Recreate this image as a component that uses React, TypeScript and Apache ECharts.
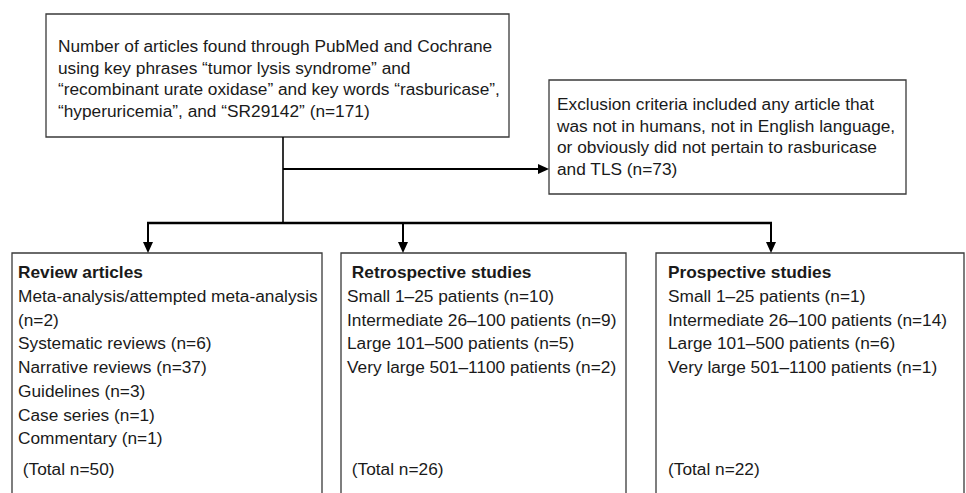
import React, { useEffect, useRef } from "react";
import * as echarts from "echarts";

const topLines = [
  "Number of articles found through PubMed and Cochrane",
  "using key phrases \u201ctumor lysis syndrome\u201d and",
  "\u201crecombinant urate oxidase\u201d and key words \u201crasburicase\u201d,",
  "\u201chyperuricemia\u201d, and \u201cSR29142\u201d (n=171)",
];

const exclusionLines = [
  "Exclusion criteria included any article that",
  "was not in humans, not in English language,",
  "or obviously did not pertain to rasburicase",
  "and TLS (n=73)",
];

const columnHeadings = ["Review articles", " Retrospective studies", "Prospective studies"];
const reviewItems = [
  "Meta-analysis/attempted meta-analysis",
  "(n=2)",
  "Systematic reviews (n=6)",
  "Narrative reviews (n=37)",
  "Guidelines (n=3)",
  "Case series (n=1)",
  "Commentary (n=1)",
];
const retrospectiveItems = [
  "Small 1\u201325 patients (n=10)",
  "Intermediate 26\u2013100 patients (n=9)",
  "Large 101\u2013500 patients (n=5)",
  "Very large 501\u20131100 patients (n=2)",
];
const prospectiveItems = [
  "Small 1\u201325 patients (n=1)",
  "Intermediate 26\u2013100 patients (n=14)",
  "Large 101\u2013500 patients (n=6)",
  "Very large 501\u20131100 patients (n=1)",
];
const columnTotals = [" (Total n=50)", " (Total n=26)", "(Total n=22)"];

const FONT = '"Liberation Sans", Arial, Helvetica, sans-serif';
const FONT_SIZE = 17.3;
const TEXT_COLOR = "#1a1a1a";
const BOX_STROKE = "#3a3a3a";

function txt(x: number, y: number, text: string, bold = false) {
  return {
    type: "text",
    x,
    y,
    style: {
      text,
      fontSize: FONT_SIZE,
      fontFamily: FONT,
      fontWeight: bold ? "bold" : "normal",
      fill: TEXT_COLOR,
      textVerticalAlign: "middle",
      verticalAlign: "middle",
    },
  };
}

function box(x: number, y: number, w: number, h: number) {
  return {
    type: "rect",
    shape: { x, y, width: w, height: h },
    style: { fill: "#fff", stroke: BOX_STROKE, lineWidth: 1.3 },
  };
}

function line(x1: number, y1: number, x2: number, y2: number, w = 2) {
  return {
    type: "line",
    shape: { x1, y1, x2, y2 },
    style: { stroke: "#000", lineWidth: w },
  };
}

function arrowDown(x: number, tipY: number) {
  return {
    type: "polygon",
    shape: { points: [[x - 5, tipY - 11], [x + 5, tipY - 11], [x, tipY]] },
    style: { fill: "#000" },
  };
}

function arrowRight(tipX: number, y: number) {
  return {
    type: "polygon",
    shape: { points: [[tipX - 11, y - 5], [tipX - 11, y + 5], [tipX, y]] },
    style: { fill: "#000" },
  };
}

export default function App() {
  const ref = useRef<HTMLDivElement>(null);
  useEffect(() => {
    if (!ref.current) return;
    const chart = echarts.init(ref.current, undefined, { renderer: "svg" });
    const els: any[] = [];

    // top box
    els.push(box(46, 14, 463, 123));
    topLines.forEach((t, i) => els.push(txt(58, 46 + i * 21.7, t)));

    // exclusion box
    els.push(box(549, 80, 357, 114));
    exclusionLines.forEach((t, i) => els.push(txt(557, 104 + i * 21.5, t)));

    // connectors
    els.push(line(283, 137, 283, 223, 1.6));
    els.push(line(283, 169, 540, 169, 2));
    els.push(arrowRight(549, 169));
    els.push(line(147, 223, 772, 223, 2.6));

    const cols = [
      { x: 12, w: 310, arrowX: 148, textX: 18, items: reviewItems },
      { x: 341, w: 285, arrowX: 403, textX: 347, items: retrospectiveItems },
      { x: 656, w: 308, arrowX: 771, textX: 668, items: prospectiveItems },
    ];
    cols.forEach((c, ci) => {
      els.push(box(c.x, 253, c.w, 300));
      els.push(line(c.arrowX, 222, c.arrowX, 244, 2));
      els.push(arrowDown(c.arrowX, 253));
      els.push(txt(c.textX, 272, columnHeadings[ci], true));
      c.items.forEach((t, i) => els.push(txt(c.textX, 296 + i * 23.7, t)));
      els.push(txt(c.textX, 469, columnTotals[ci]));
    });

    chart.setOption({
      animation: false,
      backgroundColor: "#ffffff",
      graphic: { elements: els },
    });
    return () => chart.dispose();
  }, []);
  return (
    <div
      ref={ref}
      style={{ position: "fixed", left: 0, top: 0, width: 966, height: 493, background: "#fff" }}
    />
  );
}
